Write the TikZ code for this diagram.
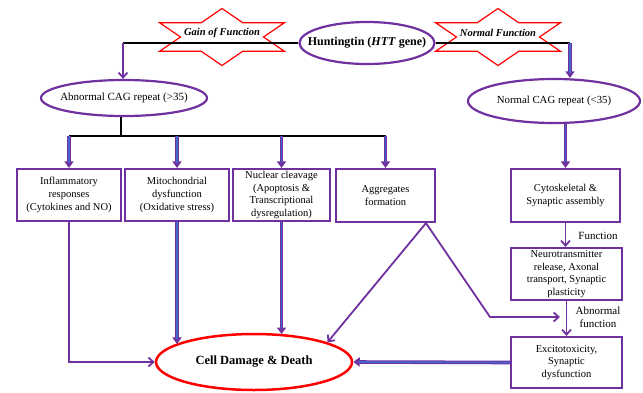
\documentclass[tikz,border=0pt]{standalone}
\usepackage{fontspec}
\setmainfont{Liberation Serif}
\usepackage{xcolor}
\usepackage{tikz}
\usetikzlibrary{shapes,arrows.meta,positioning,calc}
\definecolor{purp}{RGB}{112,48,160}
\definecolor{bluel}{RGB}{68,102,204}
\definecolor{redl}{RGB}{255,0,0}
\tikzset{
  box/.style={draw=purp, line width=2.2pt, rectangle, align=center, inner sep=1pt,
    font=\fontsize{10.5}{12.7}\selectfont},
  oval/.style={draw=purp, line width=2.2pt, ellipse, align=center, inner xsep=-25pt, inner ysep=0pt},
  blk/.style={black, line width=1.8pt},
  parrow/.style={purp, line width=1.8pt, -{Straight Barb[length=5pt,width=9pt]}},
  barrow/.style={purp, line width=3.6pt, -{Triangle[length=6.5pt,width=9pt]},
    postaction={draw=bluel, line width=1.6pt, -, shorten >=5pt}},
  starline/.style={draw=redl, line width=1.2pt},
}

\begin{document}
\begin{tikzpicture}[x=1pt, y=-1pt]
    \useasboundingbox (0,0) rectangle (643,392);

    % Stars
    \foreach \cx in {222,498}
    {
        \begin{scope}[shift={(\cx,37)}, x=72pt, y=28.5pt]
            \draw[starline] (90:1) \foreach \a in {0,60,...,300} { -- (\a+120:0.577) -- (\a+150:1) } -- cycle;
        \end{scope}
    }
    \node[font=\bfseries\itshape\fontsize{10.5}{12}\selectfont] (gof) at (222,33) {Gain of Function};
    \node[font=\bfseries\itshape\fontsize{10.5}{12}\selectfont] (nfn) at (498,33) {Normal Function};

    % Gene and repeats
    \node[oval, minimum width=135pt, minimum height=42pt, font=\bfseries\fontsize{12}{14}\selectfont] (htt) at (367,43) {Huntingtin (\textit{HTT} gene)};
    \node[oval, minimum width=166pt, minimum height=36pt, font=\fontsize{11}{13}\selectfont] (abn) at (124,98) {Abnormal CAG repeat (>35)};
    \node[oval, minimum width=172pt, minimum height=44pt, font=\fontsize{10.8}{13}\selectfont] (norm) at (554,101) {Normal CAG repeat (<35)};

    % Boxes
    \node[box, minimum width=104pt, minimum height=52pt] (infl) at (69,195) {Inflammatory\\responses\\(Cytokines and NO)};
    \node[box, minimum width=104pt, minimum height=52pt] (mito) at (177,195) {Mitochondrial\\dysfunction\\(Oxidative stress)};
    \node[box, minimum width=97pt, minimum height=52pt] (nucl) at (281.5,195) {Nuclear cleavage\\(Apoptosis \&\\Transcriptional\\dysregulation)};
    \node[box, minimum width=99pt, minimum height=53pt] (aggr) at (385.5,195.5) {Aggregates\\formation};
    \node[box, minimum width=109pt, minimum height=53pt] (cyto) at (565.5,195.5) {Cytoskeletal \&\\Synaptic assembly};
    \node[box, minimum width=111pt, minimum height=52pt] (neuro) at (566.5,274) {Neurotransmitter\\release, Axonal\\transport, Synaptic\\plasticity};
    \node[box, minimum width=111pt, minimum height=51pt] (exci) at (566.5,362.5) {Excitotoxicity,\\Synaptic\\dysfunction};
    \node[ellipse, draw=redl, line width=2.5pt, minimum width=196pt, minimum height=56pt, inner xsep=-10pt, font=\bfseries\fontsize{12.5}{14}\selectfont] (cell) at (254,362) {Cell Damage \& Death};

    % Labels
    \node[font=\fontsize{11}{12}\selectfont] (lfun) at (598,236) {Function};
    \node[align=center, font=\fontsize{11}{12.5}\selectfont] (labn) at (598,317) {Abnormal\\function};

    % Top branches
    \coordinate (gl) at (123,43);
    \coordinate (nr) at (570,43);
    \draw[blk] (htt.west) -- (gl);
    \draw[blk] (htt.east) -- (nr);
    \draw[parrow] (gl) -- (gl |- abn.north);
    \draw[barrow] (nr) -- (nr |- norm.north);

    % Gain of function bus
    \coordinate (bus) at (121,136);
    \draw[blk] (bus |- abn.south) -- (bus);
    \draw[blk] (infl.north |- bus) -- (aggr.north |- bus);
    \foreach \b in {infl,mito,nucl,aggr}
        \draw[barrow] (\b.north |- bus) -- (\b.north);

    % Normal function chain
    \draw[barrow] (cyto.north |- norm.south) -- (cyto.north);
    \draw[parrow] (cyto.south) -- (cyto.south |- neuro.north);
    \draw[parrow] (neuro.south) -- (exci.north);
    \draw[barrow] (exci.west) -- (cell.east);

    % Into cell damage
    \draw[parrow] (infl.south) |- (cell.west);
    \draw[barrow] (mito.south) -- (cell.167 -| mito.south);
    \draw[barrow] (nucl.south) -- (cell.44 -| nucl.south);

    % Aggregates
    \coordinate (apex) at ($(aggr.south)!0.8!(aggr.south east)$);
    \coordinate (kink) at (490,317);
    \coordinate (hit) at (560,317);
    \draw[parrow] (apex) -- (cell.15);
    \draw[parrow] (apex) -- (kink) -- (hit);
\end{tikzpicture}
\end{document}
